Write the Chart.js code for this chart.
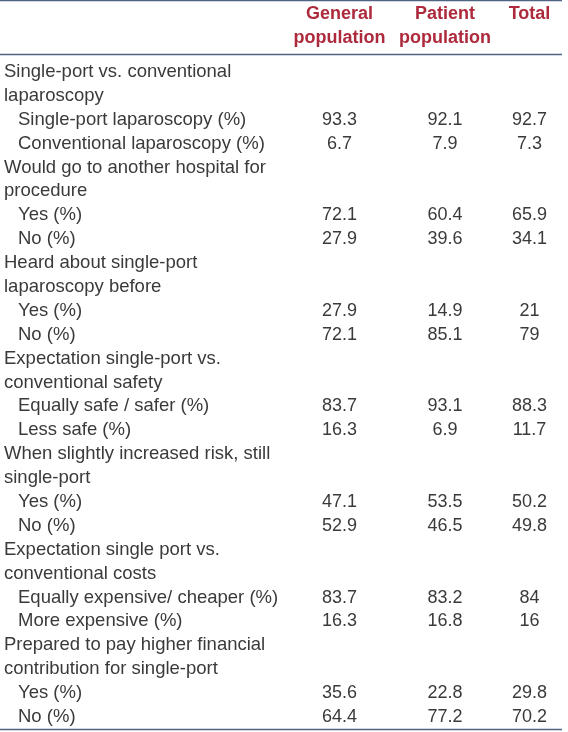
<!DOCTYPE html>
<html>
<head>
<meta charset="utf-8">
<title>Single-port laparoscopy survey</title>
<script src="https://cdn.jsdelivr.net/npm/chart.js@4"></script>
<style>
  html, body { margin: 0; padding: 0; background: #fff; }
  #table { display: block; }
</style>
</head>
<body>
<canvas id="table" width="568" height="732"></canvas>
<script>
// Table content
const columnHeaders = [['General', 'population'], ['Patient', 'population'], ['Total']];

const questions = [
  ['Single-port vs. conventional', 'laparoscopy'],
  ['Would go to another hospital for', 'procedure'],
  ['Heard about single-port', 'laparoscopy before'],
  ['Expectation single-port vs.', 'conventional safety'],
  ['When slightly increased risk, still', 'single-port'],
  ['Expectation single port vs.', 'conventional costs'],
  ['Prepared to pay higher financial', 'contribution for single-port'],
];

const answers = [
  ['Single-port laparoscopy (%)', 'Conventional laparoscopy (%)'],
  ['Yes (%)', 'No (%)'],
  ['Yes (%)', 'No (%)'],
  ['Equally safe / safer (%)', 'Less safe (%)'],
  ['Yes (%)', 'No (%)'],
  ['Equally expensive/ cheaper (%)', 'More expensive (%)'],
  ['Yes (%)', 'No (%)'],
];

const generalPopulation = [93.3, 6.7, 72.1, 27.9, 27.9, 72.1, 83.7, 16.3, 47.1, 52.9, 83.7, 16.3, 35.6, 64.4];
const patientPopulation = [92.1, 7.9, 60.4, 39.6, 14.9, 85.1, 93.1, 6.9, 53.5, 46.5, 83.2, 16.8, 22.8, 77.2];
const totalPopulation = [92.7, 7.3, 65.9, 34.1, 21, 79, 88.3, 11.7, 50.2, 49.8, 84, 16, 29.8, 70.2];

// Layout (x in px units, y in text-line units)
const colX = [339.5, 445, 529.5];
const headingX = 4;
const answerX = 18;
const ruleEnd = 562;
const lineH = 23.89;
const firstBaseline = 77;

const FONT = '"Liberation Sans", Arial, Helvetica, sans-serif';
const TEXT_COLOR = '#3a3a3a';
const HEAD_COLOR = '#ad2a3c';
const RULE_COLOR = '#4f6482';

// Build the row list from the question / answer arrays
const rows = [];       // {text, kind, line}
const answerLines = []; // line index for each value
let line = 0;
questions.forEach((q, qi) => {
  q.forEach(t => rows.push({ text: t, kind: 'q', line: line++ }));
  answers[qi].forEach(t => {
    answerLines.push(line);
    rows.push({ text: t, kind: 'a', line: line++ });
  });
});

const toLine = px => (px - firstBaseline) / lineH;
const yMin = toLine(0);
const yMax = toLine(732);

const columnData = [generalPopulation, patientPopulation, totalPopulation];

const tablePlugin = {
  id: 'tableText',
  afterDatasetsDraw(chart) {
    const { ctx, scales: { x, y } } = chart;
    ctx.save();

    // rules
    ctx.strokeStyle = RULE_COLOR;
    ctx.lineWidth = 1.3;
    [toLine(0.7), toLine(54.5), toLine(729.5)].forEach(v => {
      const py = y.getPixelForValue(v);
      ctx.beginPath();
      ctx.moveTo(x.getPixelForValue(0), py);
      ctx.lineTo(x.getPixelForValue(ruleEnd), py);
      ctx.stroke();
    });

    // column headers
    ctx.fillStyle = HEAD_COLOR;
    ctx.font = 'bold 18px ' + FONT;
    ctx.textAlign = 'center';
    ctx.textBaseline = 'alphabetic';
    const headLines = [toLine(19), toLine(43)];
    columnHeaders.forEach((h, ci) => {
      h.forEach((t, li) => {
        ctx.fillText(t, x.getPixelForValue(colX[ci]), y.getPixelForValue(headLines[li]));
      });
    });

    // row labels
    ctx.fillStyle = TEXT_COLOR;
    ctx.font = '18.5px ' + FONT;
    ctx.textAlign = 'left';
    rows.forEach(r => {
      const px = x.getPixelForValue(r.kind === 'q' ? headingX : answerX);
      ctx.fillText(r.text, px, y.getPixelForValue(r.line));
    });

    // values, placed at each dataset point
    ctx.font = '18px ' + FONT;
    ctx.textAlign = 'center';
    chart.data.datasets.forEach((ds, di) => {
      const meta = chart.getDatasetMeta(di);
      meta.data.forEach((pt, i) => {
        ctx.fillText(String(ds.data[i].v), pt.x, pt.y);
      });
    });

    ctx.restore();
  }
};

new Chart(document.getElementById('table'), {
  type: 'scatter',
  data: {
    datasets: columnData.map((vals, ci) => ({
      label: columnHeaders[ci].join(' '),
      data: vals.map((v, i) => ({ x: colX[ci], y: answerLines[i], v: v })),
      pointRadius: 0,
      pointHoverRadius: 0,
    })),
  },
  options: {
    responsive: false,
    animation: false,
    events: [],
    layout: { padding: 0, autoPadding: false },
    plugins: { legend: { display: false }, tooltip: { enabled: false } },
    scales: {
      x: { type: 'linear', display: false, min: 0, max: 568 },
      y: { type: 'linear', display: false, reverse: true, min: yMin, max: yMax },
    },
  },
  plugins: [tablePlugin],
});
</script>
</body>
</html>
